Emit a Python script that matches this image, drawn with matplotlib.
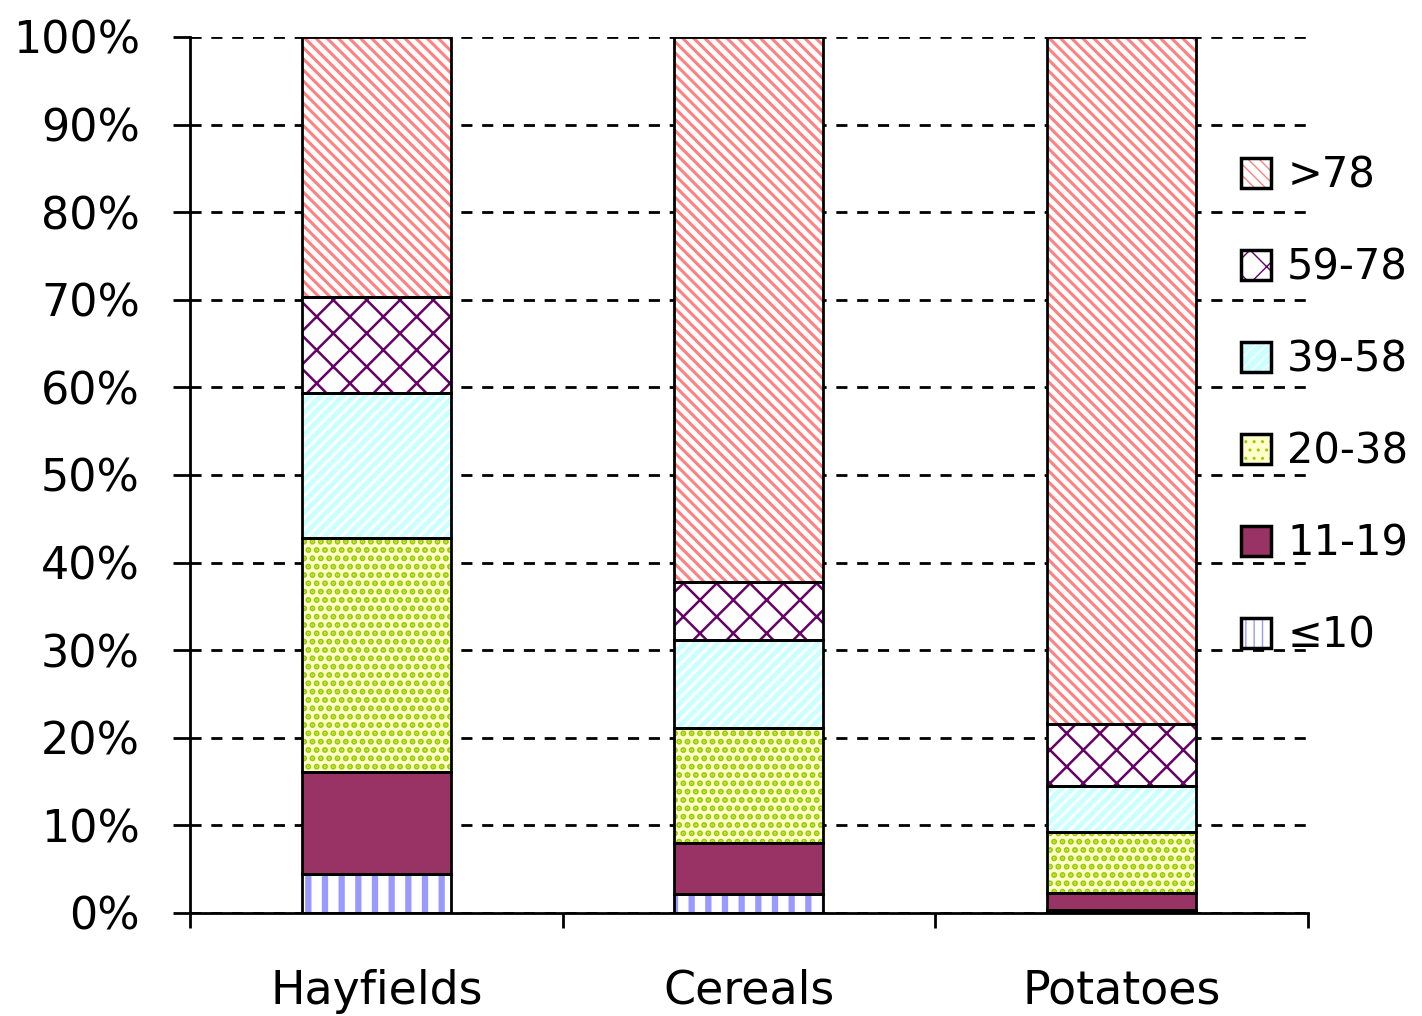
import matplotlib
matplotlib.use("Agg")
from matplotlib import pyplot as plt
from matplotlib.patches import Patch
import numpy as np

categories = ["Hayfields", "Cereals", "Potatoes"]
groups = ["\u226410", "11-19", "20-38", "39-58", "59-78", ">78"]
le10 = [4.5, 2.2, 0.3]
g11_19 = [11.6, 5.8, 2.0]
g20_38 = [26.7, 13.1, 6.9]
g39_58 = [16.6, 10.1, 5.3]
g59_78 = [10.9, 6.6, 7.1]
gt78 = [29.7, 62.2, 78.4]
series = [le10, g11_19, g20_38, g39_58, g59_78, gt78]

# face colour, hatch, hatch colour, hatch linewidth, legend hatch
styles = [
    ("white", "|", "#9999FF", 4.5, "||"),
    ("#993366", "", "#993366", 1.0, ""),
    ("#FFFFCC", "..", "#99CC00", 3.0, ".."),
    ("#CCFFFF", "///", "white", 2.0, "///"),
    ("white", "x", "#660066", 1.8, "x"),
    ("white", "\\\\\\", "#FF8080", 2.2, "\\\\\\"),
]

plt.rcParams['font.family'] = ['DejaVu Sans']

fig = plt.figure(figsize=(14.22, 10.16), dpi=100)
ax = fig.add_axes([0.1336, 0.1014, 0.7862, 0.8622])

x = np.arange(len(categories))
width = 0.4
bottom = np.zeros(len(categories))
handles = []
for vals, (fc, hatch, hc, hlw, lhatch) in zip(series, styles):
    vals = np.array(vals)
    with plt.rc_context({'hatch.linewidth': hlw}):
        ax.bar(x, vals, width, bottom=bottom, color=fc, hatch=hatch,
               edgecolor=hc, linewidth=0, zorder=2)
    with plt.rc_context({'hatch.linewidth': min(hlw, 3.0)}):
        hp = Patch(facecolor=fc, hatch=lhatch, edgecolor=hc, linewidth=0)
    ax.bar(x, vals, width, bottom=bottom, fill=False, edgecolor="black",
           linewidth=2, zorder=3)
    bp = Patch(fill=False, edgecolor="black", linewidth=2.5)
    handles.append((hp, bp))
    bottom += vals

ax.set_xlim(-0.5, 2.5)
ax.set_ylim(0, 100)
ax.set_yticks(np.arange(0, 101, 10))
ax.set_yticklabels([f"{v}%" for v in range(0, 101, 10)])
ax.yaxis.grid(True, color="black", linestyle=(0, (4, 3.5)), linewidth=2, zorder=0)
ax.set_axisbelow(True)

ax.set_xticks(x)
ax.set_xticklabels(categories)
ax.set_xticks([-0.5, 0.5, 1.5, 2.5], minor=True)
ax.tick_params(axis="x", which="major", length=0, pad=40, labelsize=33)
ax.tick_params(axis="x", which="minor", length=11, width=2, direction="out")
ax.tick_params(axis="y", length=12, width=2, direction="out", pad=24, labelsize=32)

for s in ["top", "right"]:
    ax.spines[s].set_visible(False)
for s in ["left", "bottom"]:
    ax.spines[s].set_linewidth(2)

ax.legend(handles[::-1], groups[::-1], loc="upper left",
          bbox_to_anchor=(0.846, 0.885), bbox_transform=fig.transFigure,
          frameon=False, fontsize=30, handlelength=0.72, handleheight=0.72,
          handletextpad=0.4, labelspacing=1.2)

fig.savefig("out.png", dpi=100)
